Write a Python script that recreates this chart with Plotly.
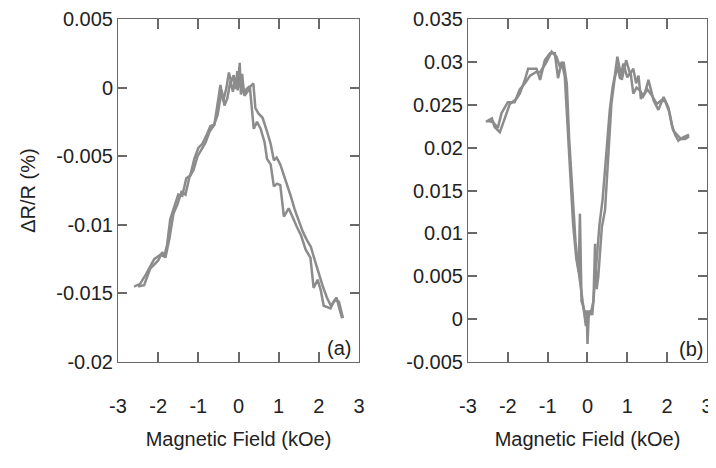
import plotly.graph_objects as go

# ---- Panel (a) data: field (kOe) and dR/R (%) ----
a1_x = [-2.6, -2.45, -2.3, -2.1, -1.95, -1.85, -1.78, -1.7, -1.6, -1.5, -1.4, -1.3, -1.2, -1.1, -1.0,
        -0.9, -0.8, -0.7, -0.6, -0.5, -0.45, -0.38, -0.3, -0.24, -0.18, -0.12, -0.07, -0.03, 0.0, 0.03,
        0.06, 0.1, 0.15, 0.22, 0.3, 0.37, 0.42, 0.5, 0.6, 0.71, 0.8, 0.88, 0.95, 1.04, 1.12, 1.2, 1.3,
        1.4, 1.5, 1.6, 1.7, 1.8, 1.9, 2.0, 2.1, 2.2, 2.3, 2.4, 2.5, 2.6]
a1_y = [-0.0145, -0.0143, -0.0136, -0.0125, -0.0122, -0.0123, -0.0115, -0.0096, -0.0087, -0.0078,
        -0.0079, -0.0066, -0.0064, -0.0052, -0.0044, -0.0041, -0.0035, -0.0028, -0.0027, -0.0006,
        0.0002, -0.0010, 0.0000, 0.0011, 0.0004, 0.0009, -0.0001, 0.0012, 0.0003, 0.0018, -0.0005,
        0.0002, -0.0006, -0.0003, 0.0001, 0.0003, -0.0015, -0.0019, -0.0022, -0.0032, -0.0041,
        -0.0053, -0.0051, -0.0056, -0.0063, -0.0069, -0.0079, -0.0089, -0.0097, -0.0105, -0.0111,
        -0.0116, -0.0126, -0.0136, -0.0145, -0.0153, -0.0159, -0.0155, -0.0156, -0.0168]

a2_x = [-2.5, -2.35, -2.2, -2.0, -1.9, -1.82, -1.72, -1.62, -1.52, -1.42, -1.32, -1.22, -1.12, -1.02,
        -0.92, -0.82, -0.72, -0.62, -0.52, -0.42, -0.35, -0.28, -0.2, -0.14, -0.08, -0.02, 0.02, 0.05,
        0.09, 0.14, 0.2, 0.28, 0.38, 0.46, 0.55, 0.65, 0.71, 0.8, 0.88, 0.96, 1.04, 1.13, 1.25, 1.36,
        1.46, 1.56, 1.67, 1.79, 1.87, 1.97, 2.05, 2.12, 2.2, 2.29, 2.37, 2.44, 2.52, 2.58]
a2_y = [-0.0145, -0.0144, -0.0132, -0.0126, -0.0120, -0.0124, -0.0110, -0.0092, -0.0085, -0.0076,
        -0.0078, -0.0065, -0.0060, -0.0050, -0.0045, -0.0040, -0.0032, -0.0028, -0.0020, -0.0002,
        -0.0013, -0.0008, 0.0005, -0.0003, 0.0007, -0.0002, 0.0015, 0.0000, 0.0010, -0.0005,
        -0.0001, 0.0001, -0.0030, -0.0025, -0.0030, -0.0040, -0.0052, -0.0056, -0.0072, -0.0070,
        -0.0071, -0.0094, -0.0088, -0.0096, -0.0102, -0.0108, -0.0118, -0.0124, -0.0146, -0.0140,
        -0.0148, -0.0159, -0.0160, -0.0161, -0.0156, -0.0153, -0.0162, -0.0168]

# ---- Panel (b) data ----
b1_x = [-2.55, -2.4, -2.33, -2.2, -2.07, -1.95, -1.8, -1.7, -1.58, -1.49, -1.38, -1.28, -1.19, -1.07,
        -0.94, -0.82, -0.74, -0.65, -0.57, -0.52, -0.44, -0.36, -0.28, -0.22, -0.19, -0.15, -0.1,
        -0.06, -0.02, 0.0, 0.03, 0.07, 0.12, 0.16, 0.22, 0.3, 0.38, 0.44, 0.5, 0.56, 0.63, 0.69, 0.75,
        0.86, 0.97, 1.07, 1.15, 1.22, 1.28, 1.34, 1.45, 1.53, 1.66, 1.78, 1.91, 2.03, 2.12, 2.2, 2.28,
        2.4, 2.55]
b1_y = [0.0230, 0.0234, 0.0224, 0.0218, 0.0235, 0.0251, 0.0256, 0.0263, 0.0278, 0.0292, 0.0292,
        0.0292, 0.0279, 0.0302, 0.0310, 0.0310, 0.0281, 0.0300, 0.0283, 0.0244, 0.0173, 0.0110,
        0.0070, 0.0055, 0.0123, 0.0021, 0.0014, 0.0005, 0.0010, -0.0029, 0.0003, 0.0008, 0.0005,
        0.0030, 0.0065, 0.0110, 0.0140, 0.0173, 0.0210, 0.0244, 0.0270, 0.0285, 0.0306, 0.0279,
        0.0302, 0.0286, 0.0292, 0.0275, 0.0284, 0.0257, 0.0265, 0.0279, 0.0255, 0.0244, 0.0259,
        0.0247, 0.0226, 0.0215, 0.0208, 0.0212, 0.0215]

b2_x = [-2.5, -2.38, -2.25, -2.16, -2.0, -1.83, -1.7, -1.57, -1.44, -1.3, -1.19, -1.05, -0.9, -0.78,
        -0.69, -0.6, -0.52, -0.46, -0.38, -0.3, -0.24, -0.18, -0.13, -0.08, -0.04, 0.0, 0.04, 0.08,
        0.12, 0.15, 0.19, 0.23, 0.27, 0.32, 0.36, 0.44, 0.52, 0.6, 0.68, 0.75, 0.82, 0.9, 1.0, 1.08,
        1.15, 1.23, 1.31, 1.4, 1.5, 1.6, 1.74, 1.85, 1.95, 2.05, 2.15, 2.23, 2.35, 2.45, 2.55]
b2_y = [0.0231, 0.0230, 0.0223, 0.0240, 0.0253, 0.0253, 0.0268, 0.0275, 0.0284, 0.0288, 0.0288,
        0.0298, 0.0312, 0.0306, 0.0294, 0.0300, 0.0275, 0.0210, 0.0150, 0.0090, 0.0062, 0.0040,
        0.0025, 0.0010, -0.0008, 0.0004, 0.0010, 0.0006, 0.0016, 0.0021, 0.0088, 0.0035, 0.0049,
        0.0080, 0.0107, 0.0127, 0.0197, 0.0251, 0.0280, 0.0295, 0.0280, 0.0298, 0.0282, 0.0288,
        0.0263, 0.0270, 0.0267, 0.0260, 0.0268, 0.0262, 0.0251, 0.0255, 0.0254, 0.0242, 0.0220,
        0.0216, 0.0210, 0.0210, 0.0213]

x_ticks = [-3, -2, -1, 0, 1, 2, 3]
x_ticklabels = ["-3", "-2", "-1", "0", "1", "2", "3"]
ya_ticks = [0.005, 0, -0.005, -0.01, -0.015, -0.02]
ya_ticklabels = ["0.005", "0", "-0.005", "-0.01", "-0.015", "-0.02"]
yb_ticks = [0.035, 0.03, 0.025, 0.02, 0.015, 0.01, 0.005, 0, -0.005]
yb_ticklabels = ["0.035", "0.03", "0.025", "0.02", "0.015", "0.01", "0.005", "0", "-0.005"]

LINE = "rgb(140,140,140)"
AXC = "rgb(105,105,105)"
TXT = "#222"
FONT = "Liberation Sans, Arial, sans-serif"

fig = go.Figure()
for xs, ys in [(a1_x, a1_y), (a2_x, a2_y)]:
    fig.add_trace(go.Scatter(x=xs, y=ys, mode="lines", line=dict(color=LINE, width=2.5),
                             showlegend=False, xaxis="x", yaxis="y"))
for xs, ys in [(b1_x, b1_y), (b2_x, b2_y)]:
    fig.add_trace(go.Scatter(x=xs, y=ys, mode="lines", line=dict(color=LINE, width=2.5),
                             showlegend=False, xaxis="x2", yaxis="y2"))

# x tick labels sit well below the axis in the reference: an empty first line pushes them down
x_ticktext = ["<br>" + t for t in x_ticklabels]

xmajor = dict(range=[-3, 3], autorange=False, tickmode="array", tickvals=x_ticks,
              ticktext=x_ticktext, ticks="inside", ticklen=10, tickwidth=1.5, tickcolor=AXC,
              showline=True, linecolor=AXC, mirror="ticks", showgrid=False, zeroline=False,
              automargin=False, tickfont=dict(size=20, color=TXT, family=FONT),
              title=dict(text="Magnetic Field (kOe)", font=dict(size=20, color=TXT, family=FONT)))
ymajor = dict(autorange=False, tickmode="array", ticks="inside", ticklen=9, tickwidth=1.5,
              tickcolor=AXC, showline=True, linecolor=AXC, mirror="ticks", showgrid=False,
              zeroline=False, automargin=False, tickfont=dict(size=20, color=TXT, family=FONT))
# unlabelled overlay axes carry the small (minor) inside ticks
xminor = dict(range=[-3, 3], autorange=False, tickmode="linear", tick0=-3, dtick=0.2,
              ticks="inside", ticklen=5, tickwidth=1.2, tickcolor=AXC, showticklabels=False,
              showline=False, mirror="ticks", showgrid=False, zeroline=False, automargin=False)
yminor = dict(autorange=False, tickmode="linear", tick0=0, dtick=0.001, ticks="inside",
              ticklen=5, tickwidth=1.2, tickcolor=AXC, showticklabels=False, showline=False,
              mirror="ticks", showgrid=False, zeroline=False, automargin=False)

fig.update_layout(
    width=708, height=460,
    margin=dict(l=110, r=9, t=11, b=106, pad=0),
    plot_bgcolor="white", paper_bgcolor="white",
    xaxis=dict(domain=[0, 0.4092], anchor="y", **xmajor),
    yaxis=dict(domain=[0, 1], anchor="x", range=[-0.02, 0.005], tickvals=ya_ticks,
               ticktext=ya_ticklabels,
               title=dict(text="ΔR/R (%)", font=dict(size=20, color=TXT, family=FONT)), **ymajor),
    xaxis2=dict(domain=[0.5942, 1], anchor="y2", **xmajor),
    yaxis2=dict(domain=[0, 1], anchor="x2", range=[-0.005, 0.035], tickvals=yb_ticks,
                ticktext=yb_ticklabels, **ymajor),
    xaxis3=dict(overlaying="x", anchor="y", **xminor),
    yaxis3=dict(overlaying="y", anchor="x", range=[-0.02, 0.005], **yminor),
    xaxis4=dict(overlaying="x2", anchor="y2", **xminor),
    yaxis4=dict(overlaying="y2", anchor="x2", range=[-0.005, 0.035], **yminor),
)

fig.add_annotation(text="(a)", xref="x", yref="y", x=2.5, y=-0.0190, showarrow=False,
                   font=dict(size=20, color=TXT, family=FONT))
fig.add_annotation(text="(b)", xref="x2", yref="y2", x=2.6, y=-0.0035, showarrow=False,
                   font=dict(size=20, color=TXT, family=FONT))

fig.write_html("out.html")
